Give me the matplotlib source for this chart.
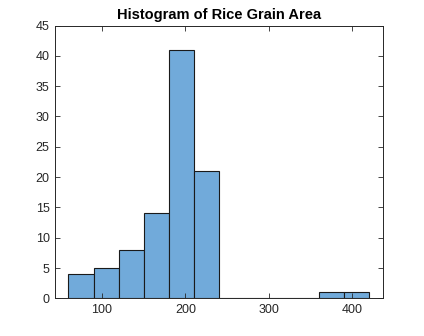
import numpy as np
import matplotlib
matplotlib.use("Agg")
import matplotlib.pyplot as plt

plt.rcParams['font.family'] = ['Liberation Sans', 'DejaVu Sans']

# Histogram of rice grain areas: bin edges and counts
bin_edges = [60, 90, 120, 150, 180, 210, 240, 270, 300, 330, 360, 390, 420]
counts = [4, 5, 8, 14, 41, 21, 0, 0, 0, 0, 1, 1]
x_ticks = [100, 200, 300, 400]
y_ticks = [0, 5, 10, 15, 20, 25, 30, 35, 40, 45]

axis_color = '#262626'
face = '#71AADA'

fig = plt.figure(figsize=(4.24, 3.36), dpi=100)
ax = fig.add_axes([0.13, 0.112, 0.774, 0.812])

edges = np.array(bin_edges, dtype=float)
ax.bar(edges[:-1], counts, width=np.diff(edges), align='edge',
       color=face, edgecolor='#1a1a1a', linewidth=0.8)

ax.set_xlim(44, 437)
ax.set_ylim(0, 45)
ax.set_xticks(x_ticks)
ax.set_yticks(y_ticks)
ax.tick_params(direction='in', length=3.5, width=0.6, colors=axis_color,
               labelsize=9, top=True, right=True, pad=4)
for s in ax.spines.values():
    s.set_color(axis_color)
    s.set_linewidth(0.7)

ax.set_title('Histogram of Rice Grain Area', fontsize=10.5, fontweight='bold',
             color='black', pad=5)

fig.savefig('out.png', dpi=100, facecolor='white')
